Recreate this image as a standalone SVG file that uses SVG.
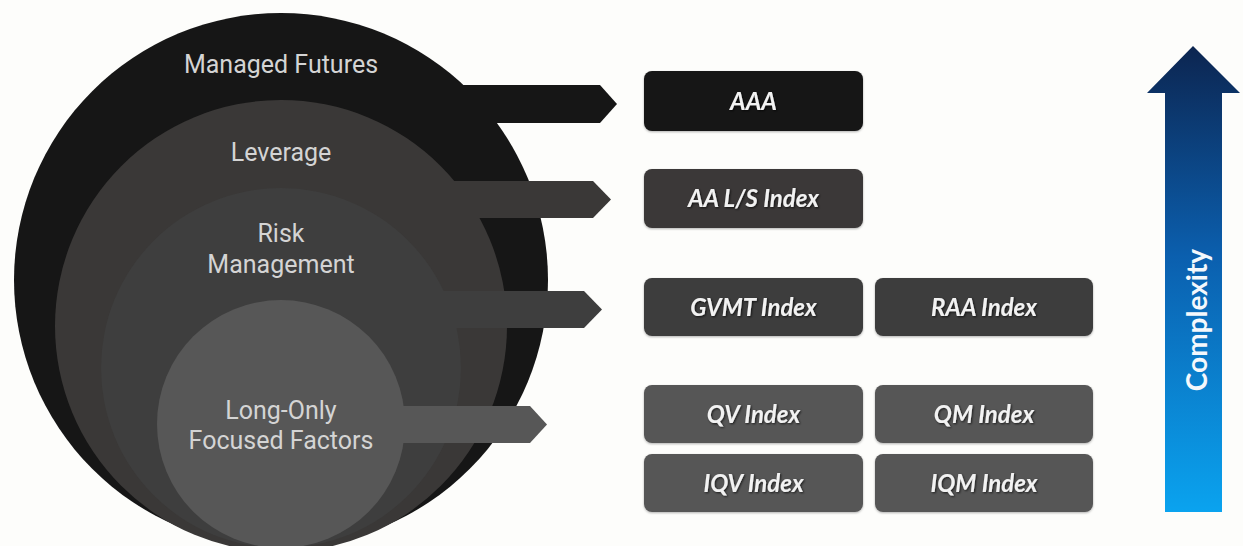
<svg xmlns="http://www.w3.org/2000/svg" width="1243" height="546" viewBox="0 0 1243 546">
  <defs>
    <linearGradient id="complexityFill" x1="0" y1="0" x2="0" y2="1">
      <stop offset="0" stop-color="#0c2550"/>
      <stop offset="0.45" stop-color="#0b5fae"/>
      <stop offset="1" stop-color="#0aa3ef"/>
    </linearGradient>
    <filter id="textShadow" x="-10%" y="-30%" width="120%" height="160%">
      <feDropShadow dx="1" dy="1" stdDeviation="0.8" flood-color="#000" flood-opacity="0.7"/>
    </filter>
    <filter id="boxShadow" x="-5%" y="-10%" width="110%" height="125%">
      <feDropShadow dx="0" dy="1" stdDeviation="1" flood-color="#000" flood-opacity="0.3"/>
    </filter>
  </defs>
  <style>
    .ring-label { font-family: Roboto, "Liberation Sans", sans-serif; font-size: 25px; fill: #d4d4d4; text-anchor: middle; }
    .box-label { font-family: Lato, "Liberation Sans", sans-serif; font-size: 24px; font-weight: bold; font-style: italic; fill: #f2f2f2; text-anchor: middle; filter: url(#textShadow); }
    .box { filter: url(#boxShadow); }
    .lvl1 { fill: #161616; }
    .lvl2 { fill: #3a3837; }
    .lvl3 { fill: #3e3e3e; }
    .lvl4 { fill: #575757; }
  </style>

  <rect width="1243" height="546" fill="#fdfdfb"/>

  <!-- Nested rings, each with its pointer tab -->
  <g id="managed-futures">
    <circle class="lvl1" cx="281" cy="280" r="267"/>
    <polygon class="lvl1" points="430,85 600,85 617,104 600,123 430,123"/>
    <text class="ring-label" x="281" y="73">Managed Futures</text>
  </g>
  <g id="leverage">
    <circle class="lvl2" cx="281" cy="326" r="226"/>
    <polygon class="lvl2" points="420,181 593,181 611,199.5 593,218 420,218"/>
    <text class="ring-label" x="281" y="161">Leverage</text>
  </g>
  <g id="risk-management">
    <circle class="lvl3" cx="281" cy="368" r="180"/>
    <polygon class="lvl3" points="400,291 584,291 602,309.5 584,328 400,328"/>
    <text class="ring-label" x="281" y="242">Risk</text>
    <text class="ring-label" x="281" y="273">Management</text>
  </g>
  <g id="long-only">
    <circle class="lvl4" cx="281" cy="424" r="124"/>
    <polygon class="lvl4" points="380,406 530,406 547,424.5 530,443 380,443"/>
    <text class="ring-label" x="281" y="419">Long-Only</text>
    <text class="ring-label" x="281" y="449">Focused Factors</text>
  </g>

  <!-- Index boxes -->
  <g id="box-aaa">
    <rect class="box lvl1" x="644" y="71" width="219" height="60" rx="8"/>
    <text class="box-label" x="753.5" y="110">AAA</text>
  </g>
  <g id="box-aa-ls">
    <rect class="box lvl2" x="644" y="169" width="219" height="59" rx="8"/>
    <text class="box-label" x="753.5" y="207">AA L/S Index</text>
  </g>
  <g id="box-gvmt">
    <rect class="box lvl3" x="644" y="278" width="219" height="58" rx="8"/>
    <text class="box-label" x="753.5" y="316">GVMT Index</text>
  </g>
  <g id="box-raa">
    <rect class="box lvl3" x="875" y="278" width="218" height="58" rx="8"/>
    <text class="box-label" x="984" y="316">RAA Index</text>
  </g>
  <g id="box-qv">
    <rect class="box lvl4" x="644" y="385" width="219" height="58" rx="8"/>
    <text class="box-label" x="753.5" y="423">QV Index</text>
  </g>
  <g id="box-qm">
    <rect class="box lvl4" x="875" y="385" width="218" height="58" rx="8"/>
    <text class="box-label" x="984" y="423">QM Index</text>
  </g>
  <g id="box-iqv">
    <rect class="box lvl4" x="644" y="454" width="219" height="58" rx="8"/>
    <text class="box-label" x="753.5" y="492">IQV Index</text>
  </g>
  <g id="box-iqm">
    <rect class="box lvl4" x="875" y="454" width="218" height="58" rx="8"/>
    <text class="box-label" x="984" y="492">IQM Index</text>
  </g>

  <!-- Complexity scale arrow -->
  <g id="complexity">
    <polygon fill="url(#complexityFill)" points="1193,46 1240,93 1222,93 1222,512 1165,512 1165,93 1147,93"/>
    <text x="1207" y="320" transform="rotate(-90 1207 320)" font-family="Lato, 'Liberation Sans', sans-serif" font-size="28" font-weight="bold" fill="#f4f8fc" text-anchor="middle">Complexity</text>
  </g>

  <g id="connectors"></g>
</svg>
